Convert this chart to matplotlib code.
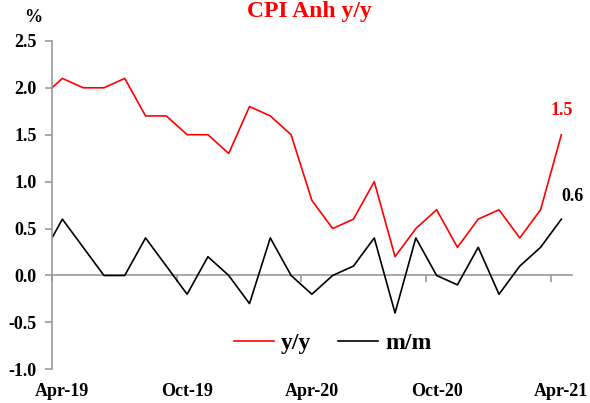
import numpy as np
import matplotlib
matplotlib.use("Agg")
import matplotlib.pyplot as plt

plt.rcParams['font.family'] = ['Liberation Serif', 'DejaVu Serif']
plt.rcParams['font.weight'] = 'bold'

# thang 3/2019 -> thang 4/2021 (thang 3/2019 bi cat o mep trai)
months = ['Mar-19', 'Apr-19', 'May-19', 'Jun-19', 'Jul-19', 'Aug-19', 'Sep-19',
          'Oct-19', 'Nov-19', 'Dec-19', 'Jan-20', 'Feb-20', 'Mar-20', 'Apr-20',
          'May-20', 'Jun-20', 'Jul-20', 'Aug-20', 'Sep-20', 'Oct-20', 'Nov-20',
          'Dec-20', 'Jan-21', 'Feb-21', 'Mar-21', 'Apr-21']
yy = [1.9, 2.1, 2.0, 2.0, 2.1, 1.7, 1.7, 1.5, 1.5, 1.3, 1.8, 1.7, 1.5, 0.8,
      0.5, 0.6, 1.0, 0.2, 0.5, 0.7, 0.3, 0.6, 0.7, 0.4, 0.7, 1.5]
mm = [0.2, 0.6, 0.3, 0.0, 0.0, 0.4, 0.1, -0.2, 0.2, 0.0, -0.3, 0.4, 0.0, -0.2,
      0.0, 0.1, 0.4, -0.4, 0.4, 0.0, -0.1, 0.3, -0.2, 0.1, 0.3, 0.6]
label_months = ['Apr-19', 'Oct-19', 'Apr-20', 'Oct-20', 'Apr-21']

x = np.arange(len(months)) - 1  # Apr-19 = 0

fig = plt.figure(figsize=(5.9, 4.03), dpi=100)
ax = fig.add_axes([0.0881, 0.0836, 0.881, 0.815])

ax.plot(x, yy, color='#FF0000', lw=1.2, label='y/y')
ax.plot(x, mm, color='black', lw=1.2, label='m/m')

ax.set_xlim(-0.5, len(months) - 1.5)
ax.set_ylim(-1.0, 2.5)
ax.set_yticks(np.arange(-1.0, 2.51, 0.5))
ax.yaxis.set_major_formatter(matplotlib.ticker.FormatStrFormatter('%.1f'))

grey = '#999999'
for s in ['top', 'right', 'bottom']:
    ax.spines[s].set_visible(False)
ax.spines['left'].set_color(grey)
ax.spines['left'].set_linewidth(1.2)
ax.tick_params(axis='y', colors=grey, length=5, width=1.2, labelcolor='black',
               labelsize=13, pad=6)

# nhan truc x o duoi cung, khong co vach
lab_pos = [months.index(m) - 1 for m in label_months]
ax.set_xticks(lab_pos)
ax.set_xticklabels(label_months)
ax.tick_params(axis='x', length=0, labelsize=13, pad=10)

# truc 0 voi vach chia giua cac nhom
sec = ax.secondary_xaxis(0, transform=ax.transData)
sec.spines['bottom'].set_color(grey)
sec.spines['bottom'].set_linewidth(1.2)
sec.set_xticks([p - 0.5 for p in lab_pos])
sec.tick_params(axis='x', colors=grey, length=5, width=1.2, labelbottom=False)

ax.annotate('%.1f' % yy[-1], (x[-1], yy[-1]), xytext=(0, 11),
            textcoords='offset points', ha='center', va='bottom',
            color='#FF0000', fontsize=13, fontweight='bold')
ax.annotate('%.1f' % mm[-1], (x[-1], mm[-1]), xytext=(8, 10),
            textcoords='offset points', ha='center', va='bottom',
            color='black', fontsize=13, fontweight='bold')

ax.legend(loc='center', bbox_to_anchor=(0.54, 0.08), ncol=2, frameon=False,
          fontsize=17, handlelength=1.7, columnspacing=1.1, handletextpad=0.3)

fig.text(0.525, 0.997, 'CPI Anh y/y', color='#FF0000', fontsize=17,
         fontweight='bold', ha='center', va='top')
fig.text(0.056, 0.957, '%', fontsize=13, fontweight='bold', ha='center',
         va='center')

fig.savefig('out.png', dpi=100)
